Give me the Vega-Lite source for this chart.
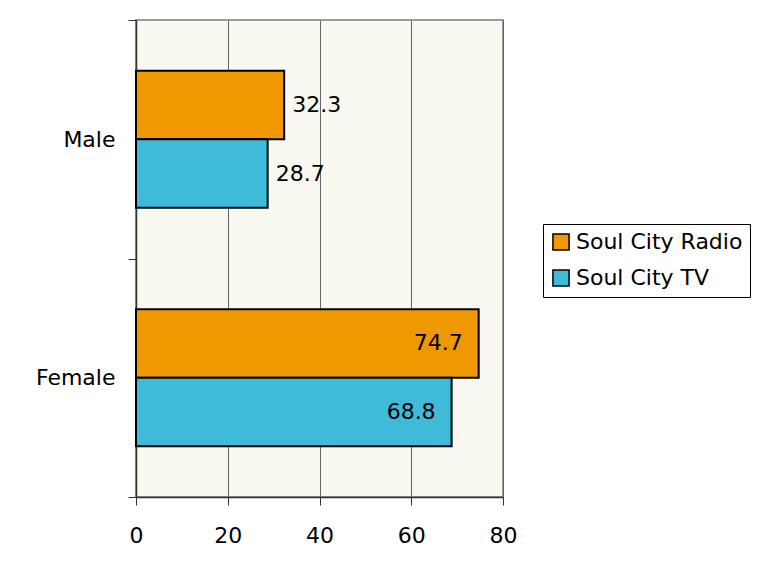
{
  "$schema": "https://vega.github.io/schema/vega-lite/v6.json",
  "width": 367,
  "height": 477,
  "autosize": {"type": "none"},
  "padding": {"left": 136, "top": 20, "right": 261, "bottom": 68},
  "background": "white",
  "data": {
    "values": [
      {"gender": "Male", "series": "Soul City Radio", "value": 32.3},
      {"gender": "Male", "series": "Soul City TV", "value": 28.7},
      {"gender": "Female", "series": "Soul City Radio", "value": 74.7},
      {"gender": "Female", "series": "Soul City TV", "value": 68.8}
    ]
  },
  "encoding": {
    "y": {
      "field": "gender",
      "type": "nominal",
      "sort": ["Male", "Female"],
      "scale": {"paddingInner": 0, "paddingOuter": 0},
      "axis": {
        "title": null,
        "tickBand": "extent",
        "tickSize": 8,
        "tickColor": "#333",
        "domainColor": "#333",
        "domainWidth": 1.5,
        "labelPadding": 13,
        "grid": false
      }
    },
    "yOffset": {
      "field": "series",
      "sort": ["Soul City Radio", "Soul City TV"],
      "scale": {"paddingInner": 0, "paddingOuter": 0.74}
    }
  },
  "layer": [
    {
      "mark": {"type": "bar", "stroke": "black", "strokeWidth": 2},
      "encoding": {
        "x": {
          "field": "value",
          "type": "quantitative",
          "scale": {"domain": [0, 80], "nice": false},
          "axis": {
            "title": null,
            "values": [0, 20, 40, 60, 80],
            "grid": true,
            "gridColor": "#666",
            "gridWidth": 1,
            "tickSize": 8,
            "tickColor": "#333",
            "domainColor": "#333",
            "domainWidth": 1.5,
            "labelPadding": 20,
            "labelFlush": false,
            "labelOverlap": false
          }
        },
        "color": {
          "field": "series",
          "type": "nominal",
          "sort": ["Soul City Radio", "Soul City TV"],
          "scale": {"range": ["#f09800", "#3fbad8"]},
          "legend": {
            "title": null,
            "orient": "none",
            "legendX": 407,
            "legendY": 204,
            "strokeColor": "black",
            "fillColor": "white",
            "padding": 7,
            "rowPadding": 12,
            "symbolType": "square",
            "symbolSize": 260,
            "symbolStrokeColor": "black",
            "symbolStrokeWidth": 1.5,
            "symbolOpacity": 1,
            "labelFont": "DejaVu Sans",
            "labelFontSize": 22,
            "labelColor": "black",
            "labelOffset": 4,
            "labelLimit": 400
          }
        }
      }
    },
    {
      "transform": [{"filter": "datum.value < 50"}],
      "mark": {"type": "text", "align": "left", "dx": 8, "font": "DejaVu Sans", "fontSize": 22, "color": "black"},
      "encoding": {
        "x": {"field": "value", "type": "quantitative"},
        "text": {"field": "value", "type": "quantitative", "format": ".1f"}
      }
    },
    {
      "transform": [{"filter": "datum.value >= 50"}],
      "mark": {"type": "text", "align": "right", "dx": -16, "font": "DejaVu Sans", "fontSize": 22, "color": "black"},
      "encoding": {
        "x": {"field": "value", "type": "quantitative"},
        "text": {"field": "value", "type": "quantitative", "format": ".1f"}
      }
    }
  ],
  "config": {
    "view": {"stroke": "#9a9a9a", "strokeWidth": 2, "fill": "#f8f8f0"},
    "axis": {"labelFont": "DejaVu Sans", "labelFontSize": 22, "labelColor": "black"}
  }
}
